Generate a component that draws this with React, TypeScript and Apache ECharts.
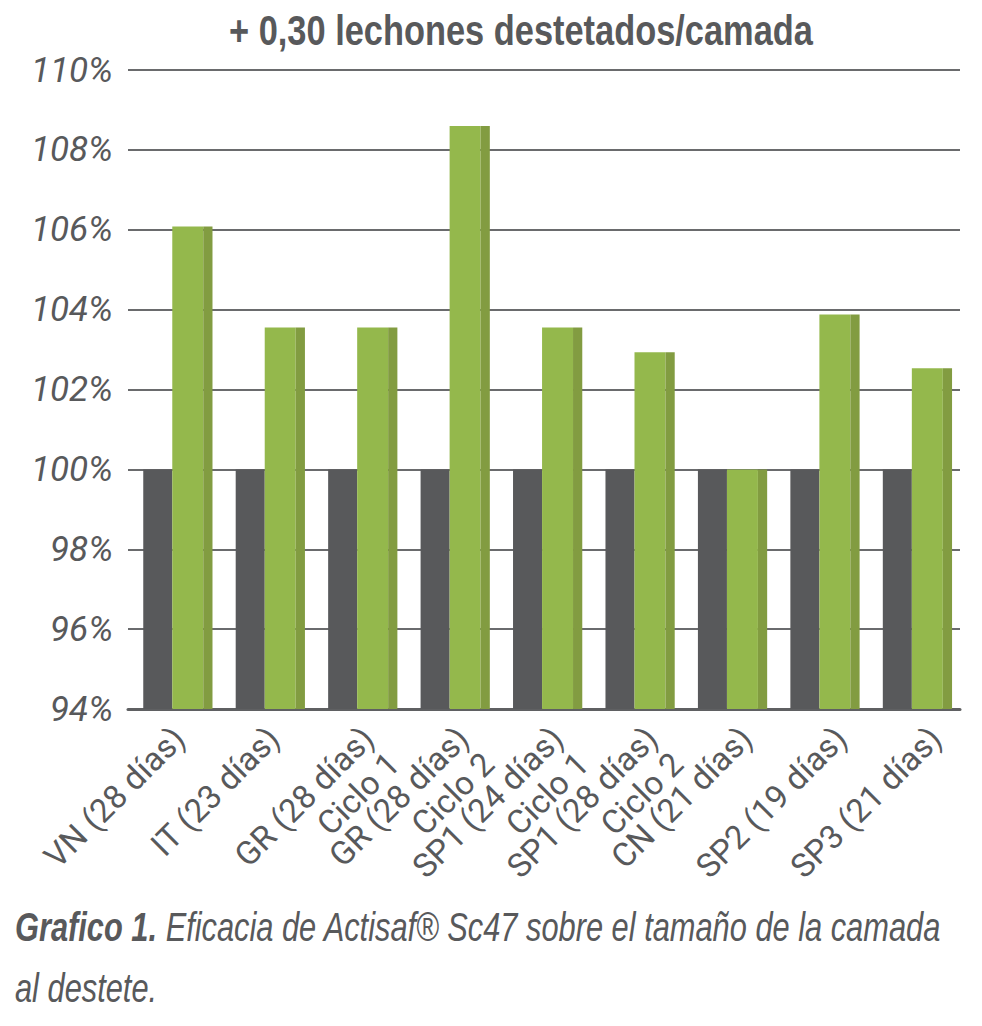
import React, { useEffect, useRef } from "react";
import * as echarts from "echarts";

const categories: string[] = [
  "VN (28 días)",
  "IT (23 días)",
  "GR (28 días)\nCiclo 1",
  "GR (28 días)\nCiclo 2",
  "SP1 (24 días)\nCiclo 1",
  "SP1 (28 días)\nCiclo 2",
  "CN (21 días)",
  "SP2 (19 días)",
  "SP3 (21 días)",
];
const controlValues: number[] = [100, 100, 100, 100, 100, 100, 100, 100, 100];
const actisafValues: number[] = [106.08, 103.55, 103.55, 108.6, 103.55, 102.93, 100.0, 103.88, 102.53];
const yTicks: number[] = [94, 96, 98, 100, 102, 104, 106, 108, 110];

const titleText = "+ 0,30 lechones destetados/camada";
const captionBold = "Grafico 1.";
const captionLine1 = "Eficacia de Actisaf® Sc47 sobre el tamaño de la camada";
const captionLine2 = "al destete.";

const AXFONT = "Roboto, 'Liberation Sans', sans-serif";
const WFONT = "'Liberation Sans', Arial, sans-serif";
const TEXT = "#58595b";
const GRAY = "#58595b";
const GREEN = "#94b84c";
const GREEN_SIDE = "#829c41";

export default function App() {
  const ref = useRef<HTMLDivElement>(null);
  useEffect(() => {
    if (!ref.current) return;
    const chart = echarts.init(ref.current, undefined, { renderer: "svg" });
    const yMin = yTicks[0];
    const yMax = yTicks[yTicks.length - 1];

    const makeRender = (leftFrac: number, frontFrac: number, sideFrac: number, color: string) =>
      (params: any, api: any) => {
        const i = api.value(0);
        const v = api.value(1);
        const base = api.coord([i, yMin]);
        const top = api.coord([i, v]);
        const bw = api.size([1, 0])[0];
        const x0 = base[0] + leftFrac * bw;
        const fw = frontFrac * bw;
        const sw = sideFrac * bw;
        const children: any[] = [
          {
            type: "rect",
            shape: { x: x0, y: top[1], width: fw, height: base[1] - top[1] },
            style: { fill: color },
          },
        ];
        if (sw > 0) {
          children.push({
            type: "rect",
            shape: { x: x0 + fw, y: top[1], width: sw, height: base[1] - top[1] },
            style: { fill: GREEN_SIDE },
          });
        }
        return { type: "group", children };
      };

    chart.setOption({
      animation: false,
      backgroundColor: "#ffffff",
      grid: [
        { left: 128, right: 22, top: 70, bottom: 317 },
        { left: 119, right: 12, top: 70, bottom: 317 },
      ],
      xAxis: [
        {
          type: "category",
          gridIndex: 0,
          data: categories,
          axisLine: { show: true, lineStyle: { color: "#5f6062", width: 3 } },
          axisTick: { show: false },
          axisLabel: { show: false },
        },
        {
          type: "category",
          gridIndex: 1,
          data: categories,
          axisLine: { show: false },
          axisTick: { show: false },
          axisLabel: {
            show: true,
            interval: 0,
            rotate: 45,
            margin: 11,
            align: "right",
            verticalAlign: "top",
            fontFamily: AXFONT,
            fontSize: 33,
            lineHeight: 36,
            color: TEXT,
          },
        },
      ],
      yAxis: [
        {
          type: "value",
          gridIndex: 0,
          min: yMin,
          max: yMax,
          interval: 2,
          axisLine: { show: false },
          axisTick: { show: false },
          splitLine: { show: true, lineStyle: { color: "#6a6b6d", width: 2 } },
          axisLabel: {
            margin: 15,
            fontFamily: AXFONT,
            fontStyle: "italic",
            fontSize: 35,
            color: TEXT,
            formatter: "{value}%",
          },
        },
        { type: "value", gridIndex: 1, show: false, min: yMin, max: yMax },
      ],
      series: [
        {
          name: "Control",
          type: "custom",
          xAxisIndex: 0,
          yAxisIndex: 0,
          renderItem: makeRender(-0.335, 0.314, 0, GRAY),
          data: controlValues.map((v, i) => [i, v]),
        },
        {
          name: "Actisaf",
          type: "custom",
          xAxisIndex: 0,
          yAxisIndex: 0,
          renderItem: makeRender(-0.021, 0.335, 0.1, GREEN),
          data: actisafValues.map((v, i) => [i, v]),
        },
      ],
      graphic: [
        {
          type: "text",
          x: 521,
          y: 30,
          scaleX: 0.8,
          style: {
            text: titleText,
            fontFamily: WFONT,
            fontWeight: "bold",
            fontSize: 43,
            fill: TEXT,
            align: "center",
            verticalAlign: "middle",
          },
        },
        {
          type: "text",
          x: 15,
          y: 928,
          scaleX: 0.77,
          style: {
            text: "{b|" + captionBold + " }{i|" + captionLine1 + "}",
            verticalAlign: "middle",
            rich: {
              b: { fontFamily: WFONT, fontStyle: "italic", fontWeight: "bold", fontSize: 40, fill: TEXT },
              i: { fontFamily: WFONT, fontStyle: "italic", fontSize: 40, fill: TEXT },
            },
          },
        },
        {
          type: "text",
          x: 15,
          y: 989,
          scaleX: 0.77,
          style: {
            text: captionLine2,
            verticalAlign: "middle",
            fontFamily: WFONT,
            fontStyle: "italic",
            fontSize: 40,
            fill: TEXT,
          },
        },
      ],
    });
    return () => chart.dispose();
  }, []);
  return (
    <div
      ref={ref}
      style={{ position: "absolute", left: 0, top: 0, width: 982, height: 1026 }}
    />
  );
}
